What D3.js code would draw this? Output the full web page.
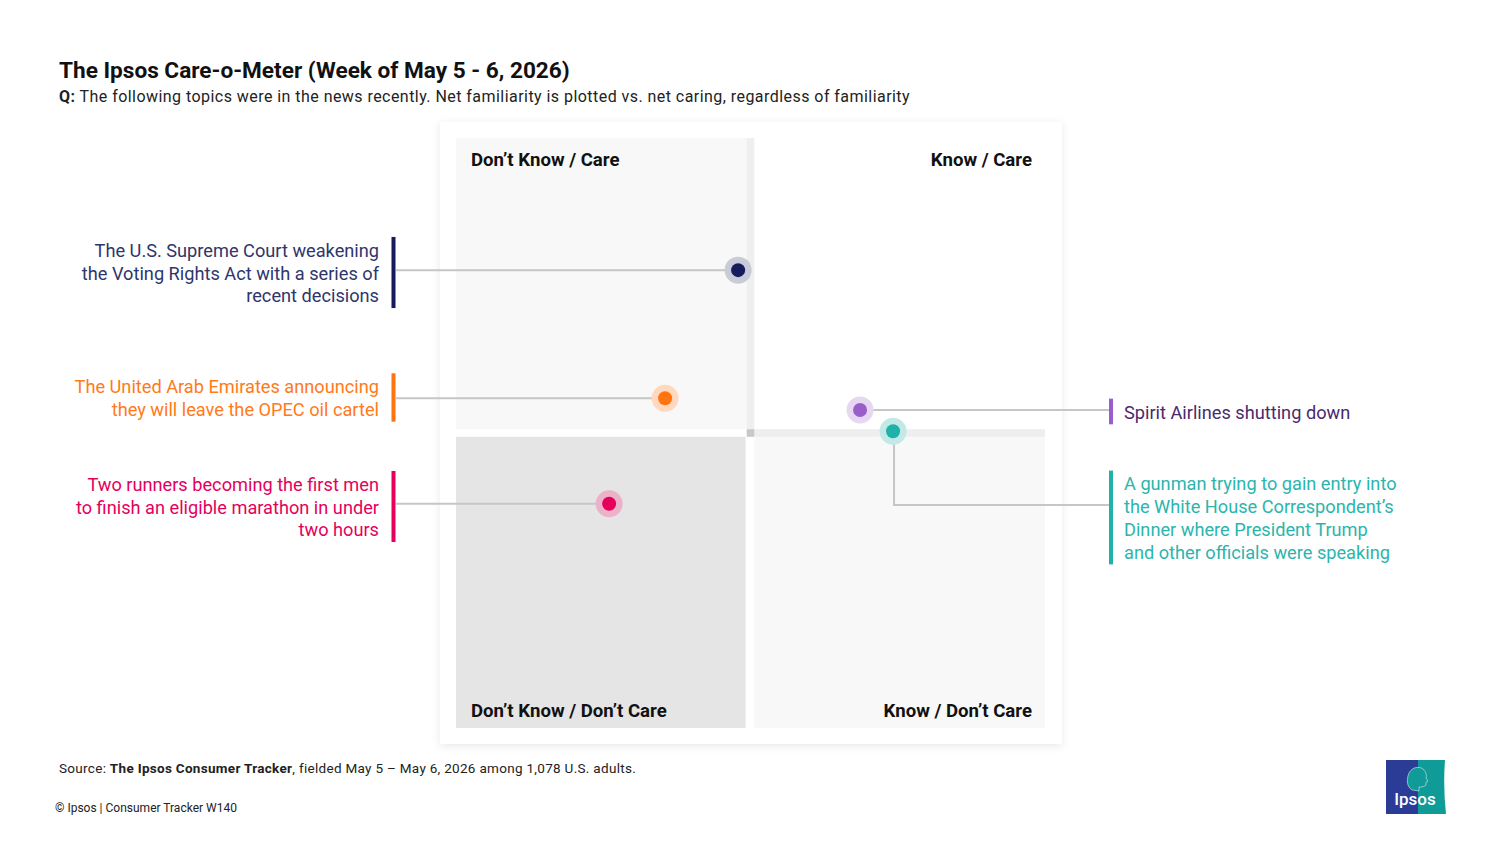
<!DOCTYPE html>
<html>
<head>
<meta charset="utf-8">
<script src="https://cdn.jsdelivr.net/npm/d3@7"></script>
<style>
  body { margin: 0; background: #fff; }
  svg { display: block; font-family: Roboto, "Noto Sans", sans-serif; }
</style>
</head>
<body>
<div id="chart"></div>
<script>
// topics, net familiarity (x) and net caring (y)
const topics = [
  "The U.S. Supreme Court weakening|the Voting Rights Act with a series of|recent decisions",
  "The United Arab Emirates announcing|they will leave the OPEC oil cartel",
  "Two runners becoming the first men|to finish an eligible marathon in under|two hours",
  "Spirit Airlines shutting down",
  "A gunman trying to gain entry into|the White House Correspondent’s|Dinner where President Trump|and other officials were speaking"
];
const familiarity = [-2.1, -14.5, -24.0, 18.6, 24.2];
const caring = [27.6, 5.9, -12.0, 3.9, 0.3];
const side = ["left", "left", "left", "right", "right"];
const label_y = [272, 397, 506, 411, 517];
const dot_colors = ["#161b5c", "#ff7410", "#e5005b", "#9a5ecb", "#1fb1aa"];
const halo_colors = ["#c9cbd8", "#ffd8bd", "#ecb2c9", "#e6d8f1", "#c3e9e6"];
const text_colors = ["#2e366c", "#ff7a1a", "#e5005b", "#4a2a6c", "#2bb5ae"];
const quadrant_labels = ["Don’t Know / Care", "Know / Care", "Don’t Know / Don’t Care", "Know / Don’t Care"];

const W = 1500, H = 844;
const svg = d3.select("#chart").append("svg").attr("width", W).attr("height", H);

const defs = svg.append("defs");
const shadow = defs.append("filter").attr("id", "shadow")
  .attr("x", "-10%").attr("y", "-10%").attr("width", "120%").attr("height", "120%");
shadow.append("feDropShadow").attr("dx", 0).attr("dy", 2).attr("stdDeviation", 4)
  .attr("flood-color", "#000").attr("flood-opacity", 0.09);

// titles
svg.append("text").attr("x", 59).attr("y", 78)
  .attr("font-size", 22.6).attr("font-weight", 700).attr("fill", "#111")
  .text("The Ipsos Care-o-Meter (Week of May 5 - 6, 2026)");
const sub = svg.append("text").attr("x", 59).attr("y", 102)
  .attr("font-size", 16).attr("letter-spacing", 0.45).attr("fill", "#222");
sub.append("tspan").attr("font-weight", 700).text("Q:");
sub.append("tspan").text(" The following topics were in the news recently. Net familiarity is plotted vs. net caring, regardless of familiarity");

const x = d3.scaleLinear().domain([-50, 50]).range([456, 1045]);
const y = d3.scaleLinear().domain([-50, 50]).range([728, 138]);
const cx = x(0), cy = y(0), gap = 3.8;

// card
svg.append("rect").attr("x", 440).attr("y", 122).attr("width", 622).attr("height", 622)
  .attr("fill", "#fff").attr("filter", "url(#shadow)");

const quad = svg.append("g");
quad.append("rect").attr("x", x(-50)).attr("y", y(50))
  .attr("width", cx - gap - x(-50)).attr("height", cy - gap - y(50)).attr("fill", "#f8f8f8");
quad.append("rect").attr("x", cx - gap).attr("y", y(50))
  .attr("width", gap * 2).attr("height", cy - gap - y(50)).attr("fill", "#efefef");
quad.append("rect").attr("x", x(-50)).attr("y", cy + gap)
  .attr("width", cx - gap - x(-50) - 1).attr("height", y(-50) - cy - gap).attr("fill", "#e5e5e5");
quad.append("rect").attr("x", cx + gap).attr("y", cy + gap)
  .attr("width", x(50) - cx - gap).attr("height", y(-50) - cy - gap).attr("fill", "#f8f8f8");
quad.append("rect").attr("x", cx + gap).attr("y", cy - gap)
  .attr("width", x(50) - cx - gap).attr("height", gap * 2).attr("fill", "#eeeeee");
quad.append("rect").attr("x", cx - gap).attr("y", cy - gap)
  .attr("width", gap * 2).attr("height", gap * 2).attr("fill", "#c8c8c8");

const ql = [
  { x: x(-50) + 15, y: y(50) + 28, a: "start" },
  { x: x(50) - 13, y: y(50) + 28, a: "end" },
  { x: x(-50) + 15, y: y(-50) - 11, a: "start" },
  { x: x(50) - 13, y: y(-50) - 11, a: "end" }
];
quad.selectAll("text.q").data(quadrant_labels).join("text")
  .attr("class", "q")
  .attr("x", (d, i) => ql[i].x).attr("y", (d, i) => ql[i].y)
  .attr("text-anchor", (d, i) => ql[i].a)
  .attr("font-size", 18.6).attr("font-weight", 700).attr("fill", "#111")
  .text((d) => d);

// leaders, bars and labels
const lineH = 22.7;
const data = topics.map((t, i) => ({
  lines: t.split("|"), fx: familiarity[i], fy: caring[i], side: side[i], ly: label_y[i],
  dot: dot_colors[i], halo: halo_colors[i], txt: text_colors[i]
}));

const leaders = svg.append("g");
data.forEach((d) => {
  const px = x(d.fx), py = y(d.fy);
  if (d.side == "left") {
    leaders.append("path").attr("d", `M396,${py}H${px}`)
      .attr("stroke", "#c6c6c6").attr("stroke-width", 2).attr("fill", "none");
  } else if (Math.abs(d.ly - py) < 4) {
    leaders.append("path").attr("d", `M${px},${py}H1110`)
      .attr("stroke", "#c6c6c6").attr("stroke-width", 2).attr("fill", "none");
  } else {
    leaders.append("path").attr("d", `M${px + 1},${py}V${d.ly - 12}H1110`)
      .attr("stroke", "#c6c6c6").attr("stroke-width", 2).attr("fill", "none");
  }
});

const labels = svg.append("g");
data.forEach((d) => {
  const n = d.lines.length;
  const top = d.ly - (n * lineH) / 2;
  const barX = d.side == "left" ? 391.5 : 1109;
  labels.append("rect").attr("x", barX).attr("y", top - 1)
    .attr("width", 4).attr("height", n * lineH + 3).attr("fill", d.dot);
  const t = labels.append("text")
    .attr("font-size", 18.2).attr("fill", d.txt)
    .attr("text-anchor", d.side == "left" ? "end" : "start");
  t.selectAll("tspan").data(d.lines).join("tspan")
    .attr("x", d.side == "left" ? 379 : 1124)
    .attr("y", (l, j) => d.ly - ((n - 1) / 2) * lineH + 7.5 + j * lineH)
    .text((l) => l);
});

// dots
const dots = svg.append("g").selectAll("g").data(data).join("g")
  .attr("transform", (d) => `translate(${x(d.fx)},${y(d.fy)})`);
dots.append("circle").attr("r", 13.5).attr("fill", (d) => d.halo);
dots.append("circle").attr("r", 7).attr("fill", (d) => d.dot);

// footer
const src = svg.append("text").attr("x", 59).attr("y", 773)
  .attr("font-size", 13.5).attr("letter-spacing", 0.3).attr("fill", "#222");
src.append("tspan").text("Source: ");
src.append("tspan").attr("font-weight", 700).text("The Ipsos Consumer Tracker");
src.append("tspan").text(", fielded May 5 – May 6, 2026 among 1,078 U.S. adults.");
svg.append("text").attr("x", 55).attr("y", 812).attr("font-size", 12).attr("fill", "#222")
  .text("© Ipsos | Consumer Tracker W140");

// logo
const logo = svg.append("g").attr("transform", "translate(1386,760)");
logo.append("rect").attr("width", 32).attr("height", 54).attr("fill", "#2b3c97");
logo.append("path").attr("d", "M32,0H59Q57,27,60,54H32Z").attr("fill", "#0f9b97");
logo.append("path")
  .attr("d", "M26,30C21,27,20,20,23,13C26,7,33,6,37,9C40,12,41,15,40,18L42,21L40,22L40,25C38,27,35,27,33,27L33,31Z")
  .attr("fill", "#0f9b97").attr("stroke", "#fff").attr("stroke-width", 0.5);
logo.append("text").attr("x", 29).attr("y", 45).attr("text-anchor", "middle")
  .attr("font-size", 17).attr("font-weight", 500).attr("fill", "#fff").text("Ipsos");
</script>
</body>
</html>
